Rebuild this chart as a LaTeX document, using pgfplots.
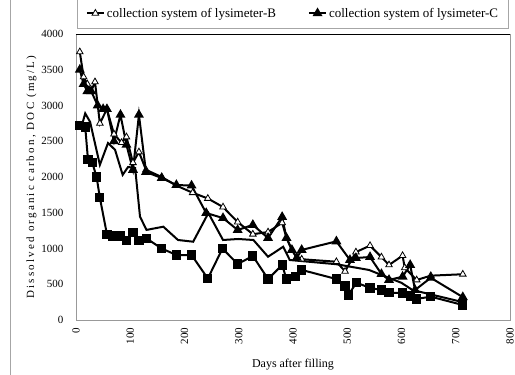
\documentclass[border=0pt]{standalone}
\usepackage{fontspec}
\setmainfont{Liberation Serif}
\usepackage{pgfplots}
\pgfplotsset{compat=1.18}
\pgfplotstableread{
x y
7 3750
14 3400
21 3300
28 3200
35 3330
44 2750
57 2950
70 2600
84 2480
93 2560
105 2200
116 2350
129 2100
158 2000
185 1880
215 1780
243 1700
271 1580
298 1370
326 1200
354 1230
380 1360
388 1150
398 980
407 870
416 850
480 815
496 680
516 950
542 1040
563 880
577 770
602 900
606 730
628 560
654 620
713 640
}\seriesB
\pgfplotstableread{
x y
7 3500
14 3300
21 3200
28 3200
40 3000
50 2950
57 2950
70 2500
82 2870
93 2450
105 2100
116 2870
129 2070
158 1986
185 1888
213 1880
240 1496
271 1426
298 1259
326 1330
354 1147
380 1441
388 1147
398 980
407 870
416 980
480 1100
505 840
516 867
542 881
563 643
577 560
602 606
616 770
625 420
654 590
713 320
}\seriesC
\pgfplotstableread{
x y
7 2720
17 2700
22 2250
30 2200
38 2000
44 1710
57 1200
68 1175
81 1175
93 1110
105 1220
116 1110
130 1140
158 1000
185 909
213 909
243 580
270 1000
298 783
326 895
354 573
380 769
388 573
404 606
416 700
480 573
496 476
502 350
517 522
542 448
563 420
577 382
602 378
616 336
627 294
654 326
713 210
}\seriesD
\pgfplotstableread{
x y
10 2700
17 2890
26 2770
44 2170
59 2475
72 2380
86 2030
96 2140
109 2126
118 1445
130 1260
161 1305
188 1119
216 1095
244 1496
271 1119
299 1133
327 1119
354 885
382 1025
394 839
407 830
480 780
540 700
600 520
620 420
713 250
}\seriesE
\begin{document}
\begin{tikzpicture}
\useasboundingbox (-76pt,-55pt) rectangle (439pt,320pt);
\draw[gray!70, line width=0.8pt] (-66pt,-60pt) -- (-66pt,330pt);
\begin{axis}[
  scale only axis,
  width=434pt, height=286pt,
  xmin=0, xmax=800, ymin=0, ymax=4000,
  xtick={0,100,...,800},
  ytick={0,500,...,4000},
  axis line style={gray!80, line width=0.8pt},
  major tick length=0pt,
  tick label style={font=\fontsize{11}{13}\selectfont},
  /pgf/number format/assume math mode=true,
  /pgf/number format/1000 sep={},
  x tick label style={rotate=90, anchor=east},
  xticklabel shift=4pt,
  yticklabel shift=9pt,
  xlabel={Days after filling},
  xlabel style={font=\fontsize{12}{14}\selectfont, yshift=-8pt},
  ylabel={\addfontfeature{LetterSpace=20}Dissolved organic carbon, DOC (mg/L)},
  ylabel style={font=\fontsize{11}{13}\selectfont, yshift=-2pt},
  legend columns=2,
  legend cell align=left,
  legend style={at={(0.5,1)}, anchor=south, yshift=5pt, draw=gray!70, line width=0.8pt,
    font=\fontsize{13}{15}\selectfont, inner xsep=8pt, inner ysep=8pt,
    /tikz/every even column/.append style={column sep=30pt}},
  legend image post style={line width=2pt},
]
\addplot[black, line width=2pt, mark=none, forget plot] table {\seriesE};
\addplot[black, line width=2pt, mark=square*, mark size=3.6pt, mark options={solid, fill=black}, forget plot] table {\seriesD};
\addplot[black, line width=2pt, mark=triangle*, mark size=3.8pt, mark options={solid, fill=white, draw=black, line width=0.8pt}] table {\seriesB};
\addlegendentry{collection system of lysimeter-B}
\addplot[black, line width=2pt, mark=triangle*, mark size=3.8pt, mark options={solid, fill=black}] table {\seriesC};
\addlegendentry{collection system of lysimeter-C}
\draw[black, line width=1pt] (rel axis cs:0,1) -- (rel axis cs:1,1);
\end{axis}
\end{tikzpicture}
\end{document}
